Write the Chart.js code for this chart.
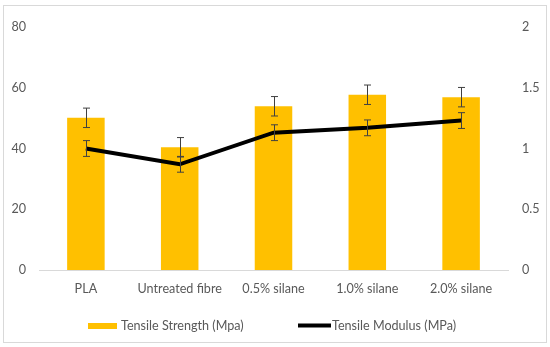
<!DOCTYPE html>
<html>
<head>
<meta charset="utf-8">
<script src="https://cdn.jsdelivr.net/npm/chart.js@4"></script>
<style>
  body { margin: 0; background: #fff; }
  #wrap { position: relative; width: 550px; height: 347px; }
  #frame { position: absolute; left: 3px; top: 5px; width: 542px; height: 336px; border: 1px solid #d9d9d9; pointer-events: none; }
</style>
</head>
<body>
<div id="wrap">
  <canvas id="chart" width="550" height="347"></canvas>
  <div id="frame"></div>
</div>
<script>
const categories = ["PLA", "Untreated fibre", "0.5% silane", "1.0% silane", "2.0% silane"];
const strength = [50.1, 40.4, 53.9, 57.7, 56.9];
const strengthErr = [3.2, 3.2, 3.2, 3.2, 3.2];
const modulus = [1.0, 0.87, 1.13, 1.17, 1.23];
const modulusErr = [0.065, 0.065, 0.065, 0.065, 0.065];
const leftTicks = [0, 20, 40, 60, 80];
const rightTicks = [0, 0.5, 1, 1.5, 2];

const FONT = "Lato, 'Open Sans', sans-serif";
const FSIZE = 12.6;
const GREY = "#595959";

// error bars with small caps
const errorBars = {
  id: 'errorBars',
  afterDatasetsDraw(chart) {
    const ctx = chart.ctx;
    chart.data.datasets.forEach((ds, i) => {
      if (!ds.errors) return;
      const meta = chart.getDatasetMeta(i);
      const scale = chart.scales[ds.yAxisID];
      ctx.save();
      ctx.strokeStyle = "#404040";
      ctx.lineWidth = 1;
      meta.data.forEach((el, j) => {
        const x = Math.round(el.x) + 0.5;
        const top = scale.getPixelForValue(ds.data[j] + ds.errors[j]);
        const bot = scale.getPixelForValue(ds.data[j] - ds.errors[j]);
        ctx.beginPath();
        ctx.moveTo(x, top); ctx.lineTo(x, bot);
        ctx.moveTo(x - 3.5, top); ctx.lineTo(x + 3.5, top);
        ctx.moveTo(x - 3.5, bot); ctx.lineTo(x + 3.5, bot);
        ctx.stroke();
      });
      ctx.restore();
    });
  }
};

// legend like the Excel one
const bottomLegend = {
  id: 'bottomLegend',
  afterDraw(chart) {
    const ctx = chart.ctx;
    const ds = chart.data.datasets;
    ctx.save();
    ctx.font = FSIZE + "px " + FONT;
    ctx.textBaseline = "middle";
    ctx.fillStyle = ds[1].backgroundColor;
    ctx.fillRect(88, 323, 29, 6);
    ctx.fillStyle = GREY;
    ctx.fillText(ds[1].label, 121, 326);
    ctx.strokeStyle = "#000";
    ctx.lineWidth = 4;
    ctx.beginPath();
    ctx.moveTo(298, 325.5); ctx.lineTo(331, 325.5);
    ctx.stroke();
    ctx.fillText(ds[0].label, 332, 326);
    ctx.restore();
  }
};

new Chart(document.getElementById("chart"), {
  type: 'bar',
  data: {
    labels: categories,
    datasets: [{
      type: 'line',
      label: "Tensile Modulus (MPa)",
      data: modulus,
      errors: modulusErr,
      yAxisID: 'y1',
      borderColor: "#000",
      borderWidth: 4,
      pointRadius: 0,
      tension: 0,
      fill: false,
      order: 0
    }, {
      label: "Tensile Strength (Mpa)",
      data: strength,
      errors: strengthErr,
      yAxisID: 'y',
      backgroundColor: "#FFC000",
      categoryPercentage: 1,
      barPercentage: 0.4,
      order: 1
    }]
  },
  options: {
    responsive: false,
    animation: false,
    layout: { padding: { top: 27, left: 0, right: 0, bottom: 0 } },
    plugins: {
      legend: { display: false },
      tooltip: { enabled: false }
    },
    scales: {
      x: {
        grid: { display: false, drawTicks: false },
        border: { color: "#d9d9d9", width: 1 },
        ticks: { color: GREY, font: { family: FONT, size: FSIZE }, padding: 11, maxRotation: 0, autoSkip: false },
        afterFit(s) { s.height = 77; }
      },
      y: {
        position: 'left',
        min: 0, max: 80,
        afterBuildTicks(s) { s.ticks = leftTicks.map(v => ({ value: v })); },
        grid: { display: false, drawTicks: false },
        border: { display: false },
        ticks: { color: GREY, font: { family: FONT, size: FSIZE }, padding: 13 },
        afterFit(s) { s.width = 39; }
      },
      y1: {
        position: 'right',
        min: 0, max: 2,
        afterBuildTicks(s) { s.ticks = rightTicks.map(v => ({ value: v })); },
        grid: { display: false, drawTicks: false },
        border: { display: false },
        ticks: { color: GREY, font: { family: FONT, size: FSIZE }, padding: 14, callback: v => String(v) },
        afterFit(s) { s.width = 42; }
      }
    }
  },
  plugins: [errorBars, bottomLegend]
});
</script>
</body>
</html>
